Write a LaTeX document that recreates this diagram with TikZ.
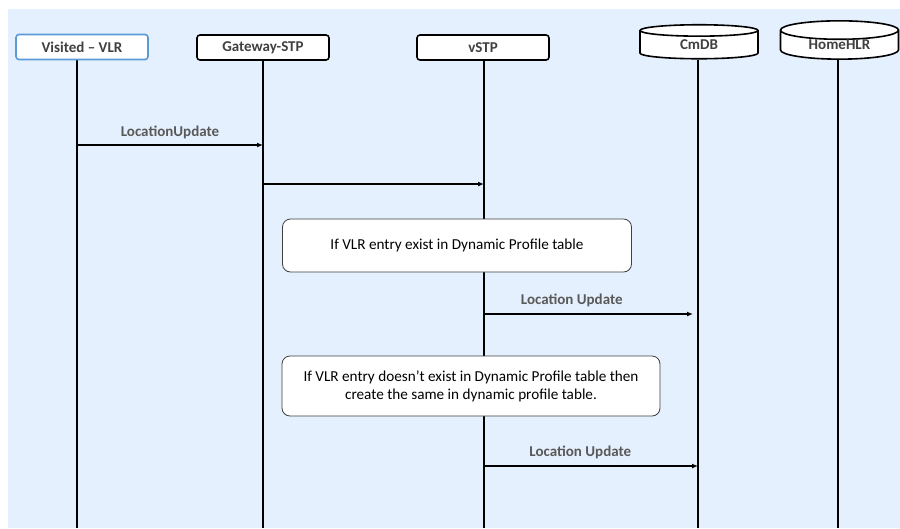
\documentclass[tikz,border=0pt]{standalone}
\usepackage{fontspec}
\setmainfont{Carlito}
\usepackage{tikz}
\usetikzlibrary{arrows.meta,shapes.geometric}
\definecolor{bgblue}{RGB}{228,240,253}
\definecolor{vlrblue}{RGB}{91,155,213}
\definecolor{headgray}{RGB}{64,64,64}
\definecolor{labelgray}{RGB}{89,89,89}
\tikzset{actor/.style={draw, line width=1.6pt, rounded corners=3pt, fill=white,
         minimum width=132pt, minimum height=25pt, inner sep=0pt,
         font=\fontsize{15}{17}\selectfont\bfseries, text=headgray},
         store/.style={cylinder, shape border rotate=90, aspect=0.3, draw,
         line width=1.6pt, fill=white, minimum width=118pt, minimum height=34pt,
         inner sep=0pt, font=\fontsize{15}{17}\selectfont\bfseries, text=headgray},
         life/.style={line width=1.5pt},
         msg/.style={line width=1.2pt, -{Latex[length=6pt,width=5pt]}},
         msglabel/.style={font=\fontsize{15}{17}\selectfont\bfseries, text=labelgray},
         note/.style={draw=black!75, fill=white, rounded corners=8pt, line width=0.8pt,
         font=\fontsize{15.2}{18}\selectfont, align=center}}

\begin{document}
\begin{tikzpicture}[x=1pt, y=-1pt]
      \useasboundingbox (0,0) rectangle (900,528);
      \fill[bgblue] (8,9) rectangle (900,528);
      \coordinate (bot) at (0,528);

      % lifelines
      \coordinate (vlrtop) at (77,59);
      \draw[life] (vlrtop) -- (vlrtop |- bot);
      \draw[life] (263,60) coordinate (gwtop) -- (gwtop |- bot);
      \draw[life] (484,61) coordinate (stptop) -- (stptop |- bot);
      \draw[life] (698,60) coordinate (dbtop) -- (dbtop |- bot);
      \draw[life] (838,60) coordinate (hlrtop) -- (hlrtop |- bot);

      % participants
      \node[actor, draw=vlrblue] (vlr) at (82,47) {Visited -- VLR};
      \node[actor] (gw) at (263,47.5) {Gateway-STP};
      \node[actor] (stp) at (483,47.5) {vSTP};
      \node[store] (db) at (699,45) {CmDB};
      \node[store] (hlr) at (839.5,45) {HomeHLR};

      % notes
      \node[note, minimum width=349pt, minimum height=53pt] (n1) at (457,245.5)
        {If VLR entry exist in Dynamic Profile table};
      \node[note, minimum width=378pt, minimum height=60pt] (n2) at (471,386)
        {If VLR entry doesn’t exist in Dynamic Profile table then\\
         create the same in dynamic profile table.};

      % messages
      \coordinate (m1) at (0,145);
      \coordinate (m2) at (0,184);
      \coordinate (m3) at (0,314);
      \coordinate (m4) at (0,466);
      \draw[msg] (vlrtop |- m1) -- node[msglabel, above=2pt] {LocationUpdate} (gwtop |- m1);
      \draw[msg] (gwtop |- m2) -- (stptop |- m2);
      \draw[msg, shorten >=5pt] (stptop |- m3) -- node[msglabel, above=3pt, pos=0.41] {Location Update} (dbtop |- m3);
      \draw[msg] (stptop |- m4) -- node[msglabel, above=3pt, pos=0.45] {Location Update} (dbtop |- m4);
    \end{tikzpicture}
\end{document}
